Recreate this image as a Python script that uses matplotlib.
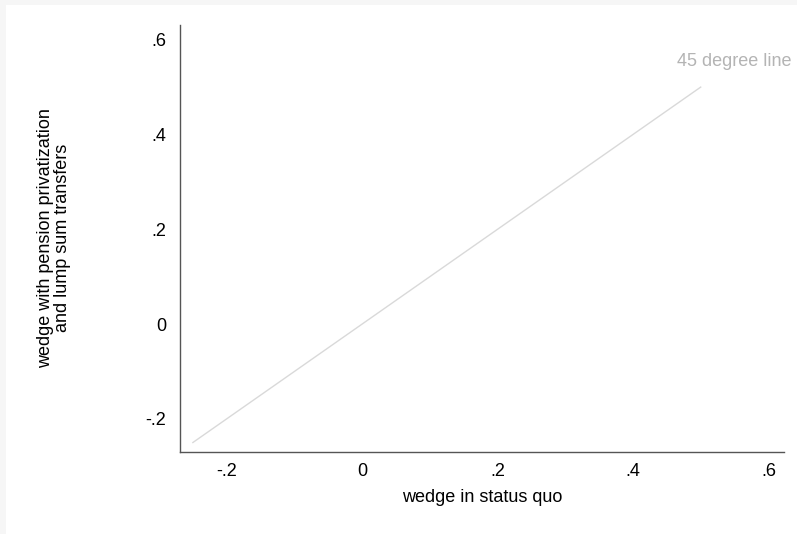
import matplotlib.pyplot as plt
from matplotlib.patches import Rectangle

plt.rcParams["font.family"] = ["Liberation Sans", "DejaVu Sans"]

# 45-Grad-Linie
line_x = [-0.25, 0.5]
line_y = [-0.25, 0.5]
ticks = [-0.2, 0, 0.2, 0.4, 0.6]
tick_labels = ["-.2", "0", ".2", ".4", ".6"]

W, H = 797, 534
fig = plt.figure(figsize=(W / 100, H / 100), dpi=100)
fig.patch.set_facecolor("#f6f6f6")
# weisser Innenbereich, grauer Rand oben und links
fig.patches.append(
    Rectangle((6 / W, 0), 1, 1 - 5 / H, transform=fig.transFigure,
              facecolor="white", edgecolor="none", zorder=-1)
)

ax = fig.add_axes([180 / W, 1 - 452 / H, 604 / W, 427 / H])
ax.set_facecolor("white")
ax.plot(line_x, line_y, color="#d9d9d9", linewidth=1.0)
ax.text(0.465, 0.553, "45 degree line", color="#b4b4b4", fontsize=13,
        ha="left", va="center")

ax.set_xlim(-0.269, 0.623)
ax.set_ylim(-0.270, 0.631)
ax.set_xticks(ticks)
ax.set_xticklabels(tick_labels)
ax.set_yticks(ticks)
ax.set_yticklabels(tick_labels)
ax.tick_params(length=0, labelsize=13)
ax.tick_params(axis="x", pad=8)
ax.tick_params(axis="y", pad=10)

for s in ["top", "right"]:
    ax.spines[s].set_visible(False)
for s in ["left", "bottom"]:
    ax.spines[s].set_color("#555555")
    ax.spines[s].set_linewidth(1.0)

fig.text(482 / W, 1 - 497 / H, "wedge in status quo", fontsize=13,
         ha="center", va="center")
fig.text(54 / W, 1 - 238 / H,
         "wedge with pension privatization\nand lump sum transfers",
         fontsize=13, ha="center", va="center", rotation=90,
         linespacing=0.95, multialignment="center")

fig.savefig("out.png", dpi=100, facecolor=fig.get_facecolor())
